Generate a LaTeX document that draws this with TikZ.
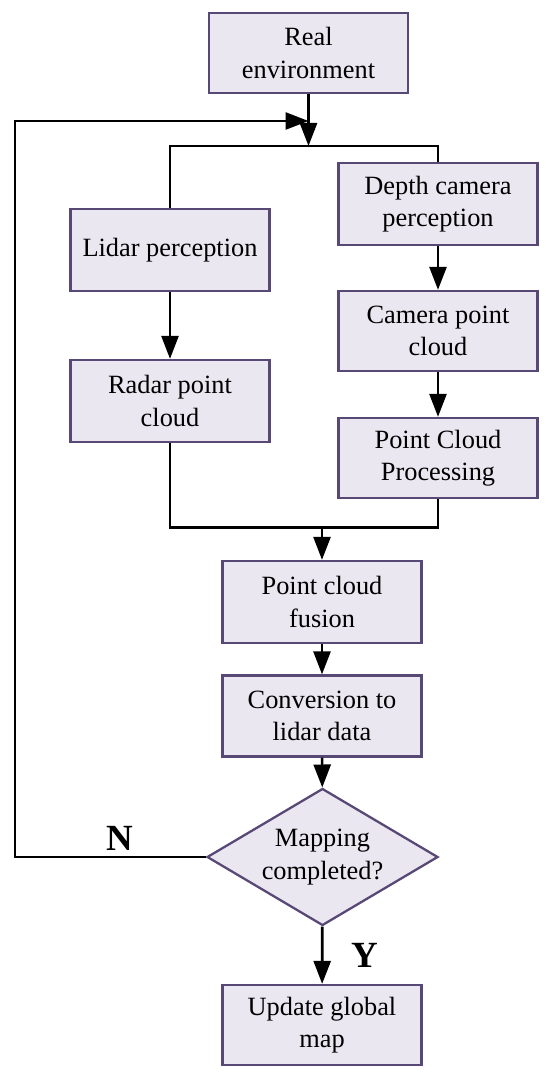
\documentclass[tikz,border=0pt]{standalone}
\usepackage{fontspec}
\setmainfont{Liberation Serif}
\usetikzlibrary{arrows.meta, shapes.geometric, positioning}

\definecolor{boxfill}{RGB}{234,231,241}
\definecolor{boxline}{RGB}{88,72,118}

\begin{document}
\begin{tikzpicture}[
		%inner sep=2mm,
		process/.style={rectangle, draw=boxline, fill=boxfill, line width=1.3pt, align=center, inner sep=0pt, minimum width=3.98cm, minimum height=1.6cm, font=\rmfamily\fontsize{15}{18.5}\selectfont},
		decision/.style={diamond, draw=boxline, fill=boxfill, line width=1.3pt, align=center, inner sep=0pt, aspect=1.69, minimum width=4.62cm, minimum height=2.74cm, font=\rmfamily\fontsize{15}{18.5}\selectfont},
		flow/.style={line width=1.5pt, -{Triangle[length=4.6mm, width=3.4mm]}},
		wire/.style={line width=1.5pt},
		answer/.style={font=\rmfamily\fontsize{21}{25}\selectfont\bfseries}
		]
		\useasboundingbox (0, 0) rectangle (11, -21.54);
		\node at (6.17, -1.06) [name=real env, process] {Real\\environment};
		\node at (3.4, -5.0) [name=lidar, process, minimum height=1.64cm] {Lidar perception};
		\node at (8.76, -4.08) [name=depth, process, minimum height=1.64cm] {Depth camera\\perception};
		\node at (3.4, -8.02) [name=radar cloud, process, minimum height=1.64cm] {Radar point\\cloud};
		\node at (8.76, -6.62) [name=camera cloud, process] {Camera point\\cloud};
		\node at (8.76, -9.16) [name=processing, process] {Point Cloud\\Processing};
		\node at (6.44, -12.04) [name=fusion, process, minimum height=1.64cm] {Point cloud\\fusion};
		\node at (6.44, -14.32) [name=conversion, process, minimum height=1.62cm] {Conversion to\\lidar data};
		\node at (6.45, -17.14) [name=mapping done, decision] {Mapping\\completed?};
		\node at (6.44, -20.5) [name=update map, process] {Update global\\map};

		\coordinate (split) at (6.17, -2.92);
		\coordinate (back) at (6.17, -2.42);
		\coordinate (merge) at (6.44, -10.55);

		% top branch
		\draw[flow] (real env) -- (split);
		\draw[wire] (lidar.north) |- (split) -| (depth.north);
		\draw[flow] (lidar) -- (radar cloud);
		\draw[flow] (depth) -- (camera cloud);
		\draw[flow] (camera cloud) -- (processing);

		% join
		\draw[wire] (radar cloud.south) |- (merge) -| (processing.south);
		\draw[flow] (merge) -- (fusion);
		\draw[flow] (fusion) -- (conversion);
		\draw[flow] (conversion) -- (mapping done);

		% loop back
		\draw[flow] (mapping done.west) -| (0.3, -2.42) -- (back);
		\node at (2.4, -16.76) [name=no, answer] {N};

		\draw[flow] (mapping done) -- (update map);
		\node at (7.3, -19.1) [name=yes, answer] {Y};
	\end{tikzpicture}
\end{document}
